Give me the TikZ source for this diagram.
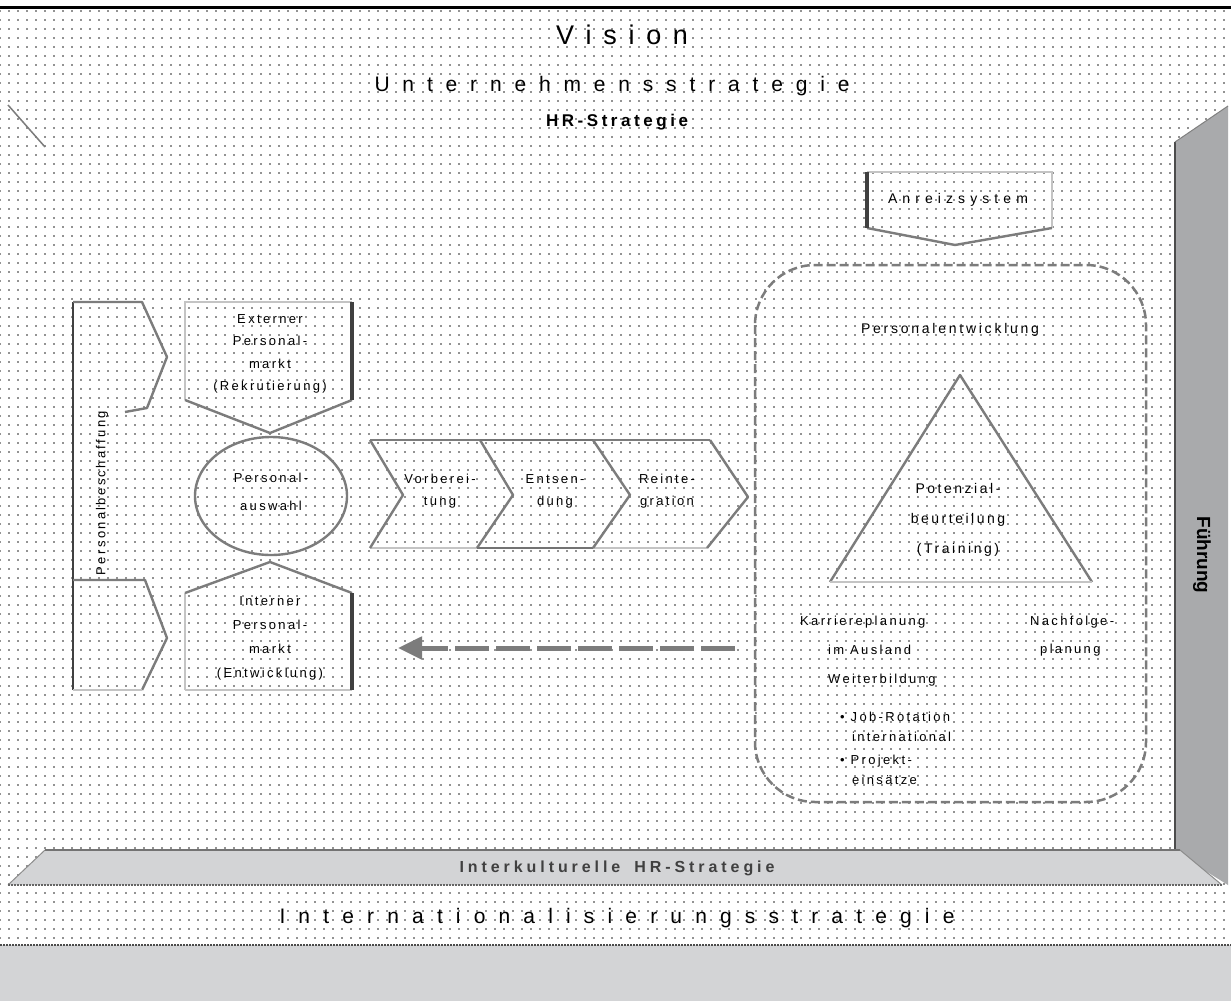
\documentclass[tikz,border=0pt]{standalone}
\usepackage{fontspec}
\setmainfont{Liberation Sans}
\newfontfamily\widefont[LetterSpace=18]{Liberation Sans}
\usetikzlibrary{arrows.meta,patterns.meta}
\makeatletter
\def\sprd#1{\sprd@a#1\relax}
\def\sprd@a#1{#1\sprd@b}
\def\sprd@b#1{\ifx\relax#1\else\hfill#1\expandafter\sprd@b\fi}
\makeatother
\definecolor{bandgray}{HTML}{D3D4D6}
\definecolor{bargray}{HTML}{A9AAAC}
\definecolor{linegray}{HTML}{7C7C7C}
\definecolor{lightline}{HTML}{C4C4C4}
\tikzdeclarepattern{name=bgdots, type=uncolored,
  bounding box={(-1pt,-1pt) and (1pt,1pt)},
  tile size={(9pt,9pt)},
  code={\fill (0pt,0pt) circle (0.85pt);}}
\tikzset{
  roughline/.style={draw=linegray, line width=2.4pt, line join=round},
  lightedge/.style={draw=lightline, line width=2pt},
  darkedge/.style={draw=black!75, line width=4pt},
  boxtxt/.style={align=center, inner sep=0pt, font=\widefont\fontsize{13}{22.5}\selectfont},
  smalltxt/.style={align=left, anchor=west, inner sep=0pt, font=\widefont\fontsize{13}{20}\selectfont},
  fb/.style={draw=linegray, line width=5pt, dash pattern=on 34pt off 7pt,
    -{Triangle[length=24pt,width=22pt,fill=linegray]}}
}
\begin{document}
\begin{tikzpicture}[x=1pt,y=-1pt]
\useasboundingbox (0,0) rectangle (1231,1001);
\fill[white] (0,0) rectangle (1231,1001);
\fill[pattern=bgdots, pattern color=black!85] (0,10) rectangle (1231,945);
% top line
\draw[line width=3pt] (0,7) -- (1231,7);
% titles
\node[inner sep=0pt] (vision) at (622,35) {\fontsize{27}{30}\selectfont\hbox to 132pt{\sprd{Vision}}};
\node[inner sep=0pt] (unt) at (612,86) {\fontsize{21}{24}\selectfont\hbox to 475pt{\sprd{Unternehmensstrategie}}};
\node[inner sep=0pt] (hrs) at (617,122) {\fontsize{17}{20}\selectfont\bfseries\hbox to 142pt{\sprd{HR-Strategie}}};
% frame bevels
\draw[draw=linegray, line width=1.5pt] (8,105) -- (45,147);
\fill[bargray] (1175,142) -- (1228,106) -- (1228,885) -- (1175,852) -- cycle;
\draw[black!70, line width=1.5pt] (1175,142) -- (1175,852);
\draw[black!50, line width=1pt] (1175,142) -- (1228,106);
\fill[bandgray] (8,885) -- (45,850) -- (1180,850) -- (1222,885) -- cycle;
\draw[black!55, line width=1.2pt] (45,850) -- (1180,850);
\draw[black!45, line width=1pt] (8,885) -- (45,850);
\draw[black!45, line width=1pt] (1180,850) -- (1222,885);
\draw[black!60, line width=1.2pt, dash pattern=on 2pt off 1pt] (8,885) -- (1222,885);
\node[rotate=-90, inner sep=0pt] (fuehr) at (1202,555) {\fontsize{19}{22}\selectfont\bfseries Führung};
\node[inner sep=0pt, text=black!75] (ihr) at (617,868) {\fontsize{16}{18}\selectfont\bfseries\hbox to 315pt{\sprd{Interkulturelle}\hskip 10pt plus 1fill\sprd{HR-Strategie}}};
\node[inner sep=0pt] (ins) at (617,918) {\fontsize{21}{24}\selectfont\hbox to 675pt{\sprd{Internationalisierungsstrategie}}};
% bottom band
\fill[bandgray] (0,945) rectangle (1231,1001);
\draw[black!70, line width=1.5pt, dash pattern=on 2pt off 1pt] (0,945) -- (1231,945);

% ---- left group ----
\draw[black!75, line width=2pt] (73,302) -- (73,690);
\draw[roughline] (73,302) -- (142,302) -- (167,357) -- (147,408) -- (125,412);
\draw[roughline] (73,580) -- (145,580) -- (167,638) -- (142,690);
\draw[lightedge] (73,690) -- (142,690);
\node[rotate=90, inner sep=0pt, font=\widefont\fontsize{13}{15}\selectfont] (pb) at (102,493) {Personalbeschaffung};

% upper box
\draw[lightedge] (185,400) -- (185,302) -- (352,302);
\draw[roughline] (185,400) -- (270,433) -- (352,400);
\draw[darkedge] (352,302) -- (352,400);
\node[boxtxt] (ext) at (270,354) {Externer\\Personal-\\markt\\(Rekrutierung)};
% ellipse
\draw[roughline] (271,496) ellipse (76pt and 59pt);
\node[boxtxt, font=\widefont\fontsize{13}{28}\selectfont] (sel) at (271,492) {Personal-\\auswahl};
% lower box
\draw[lightedge] (185,690) -- (185,593);
\draw[roughline] (185,593) -- (270,562) -- (352,593);
\draw[lightedge] (185,690) -- (352,690);
\draw[darkedge] (352,593) -- (352,690);
\node[boxtxt, font=\widefont\fontsize{13}{24}\selectfont] (int) at (270,638) {Interner\\Personal-\\markt\\(Entwicklung)};

% ---- chevrons ----
\draw[draw=linegray, line width=2.5pt] (370,440) -- (710,440);
\draw[lightedge] (370,548) -- (707,548);
\draw[roughline] (370,440) -- (403,495) -- (370,548);
\draw[roughline] (480,440) -- (513,495) -- (477,548);
\draw[draw=black!55, line width=2.5pt] (480,440) -- (593,440);
\draw[draw=black!55, line width=2.5pt] (477,548) -- (593,548);
\draw[roughline] (593,440) -- (630,495) -- (593,548);
\draw[roughline] (710,440) -- (748,497) -- (707,548);
\node[boxtxt, font=\widefont\fontsize{13}{22}\selectfont] (c1) at (440,491) {Vorberei-\\tung};
\node[boxtxt, font=\widefont\fontsize{13}{22}\selectfont] (c2) at (555,491) {Entsen-\\dung};
\node[boxtxt, font=\widefont\fontsize{13}{22}\selectfont] (c3) at (667,491) {Reinte-\\gration};

% ---- feedback arrow ----
\coordinate (fbS) at (735,648);
\coordinate (fbE) at (398,648);
\draw[fb] (fbS) -- (fbE);

% ---- right group ----
\draw[lightedge] (867,172) -- (1052,172) -- (1052,228);
\draw[roughline] (1052,228) -- (955,245) -- (867,228);
\draw[darkedge] (867,172) -- (867,228);
\node[inner sep=0pt, font=\fontsize{14}{16}\selectfont] (anr) at (958,200) {\hbox to 140pt{\sprd{Anreizsystem}}};

\draw[draw=linegray, line width=2.5pt, dash pattern=on 9pt off 4pt, rounded corners=60pt] (755,265) rectangle (1146,802);
\node[inner sep=0pt, font=\fontsize{14}{16}\selectfont] (pe) at (950,330) {\hbox to 178pt{\sprd{Personalentwicklung}}};

\draw[roughline] (830,582) -- (960,375) -- (1092,582);
\draw[lightedge] (830,582) -- (1092,582);
\node[boxtxt, font=\widefont\fontsize{14}{30}\selectfont] (tri) at (958,520) {Potenzial-\\beurteilung\\(Training)};

\node[smalltxt] (k1) at (800,622) {Karriereplanung};
\node[smalltxt] (k2) at (828,650) {im Ausland};
\node[smalltxt] (n1) at (1030,622) {Nachfolge-};
\node[smalltxt] (n2) at (1040,650) {planung};
\node[smalltxt] (wb) at (828,680) {Weiterbildung};
\node[smalltxt] (b1) at (840,727) {• Job-Rotation\\\ \ international};
\node[smalltxt] (b2) at (840,770) {• Projekt-\\\ \ einsätze};
\end{tikzpicture}
\end{document}
